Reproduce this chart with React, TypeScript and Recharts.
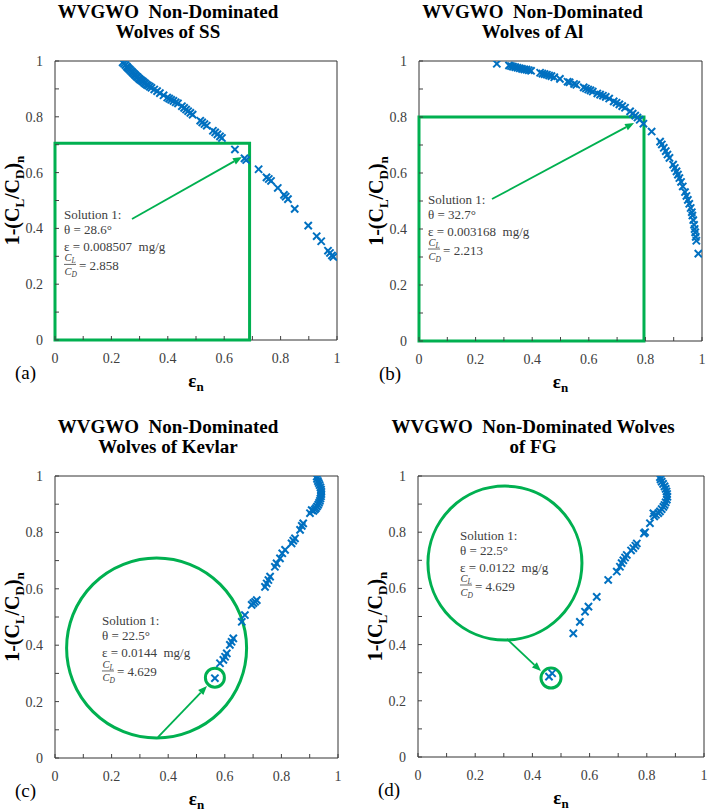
import React from 'react';
import {
  ScatterChart,
  Scatter,
  XAxis,
  YAxis,
  ReferenceArea,
  ReferenceDot,
  ReferenceLine,
} from 'recharts';

type Pt = [number, number];

// Non-dominated fronts: [normalised erosion εn, 1-(CL/CD)n]
const ssFront: Pt[] = [
  [0.240, 0.995], [0.245, 0.990], [0.250, 0.985], [0.255, 0.980], [0.258, 0.976],
  [0.262, 0.972], [0.266, 0.968], [0.270, 0.964], [0.274, 0.960], [0.278, 0.956],
  [0.282, 0.952], [0.285, 0.949], [0.289, 0.945], [0.293, 0.942], [0.297, 0.938],
  [0.300, 0.935], [0.304, 0.932], [0.308, 0.929], [0.312, 0.926], [0.316, 0.922],
  [0.320, 0.919], [0.325, 0.915], [0.330, 0.912], [0.336, 0.908], [0.342, 0.904],
  [0.352, 0.898], [0.362, 0.892], [0.372, 0.885], [0.385, 0.877], [0.398, 0.869],
  [0.405, 0.865], [0.412, 0.861], [0.420, 0.857], [0.428, 0.852], [0.436, 0.848],
  [0.450, 0.838], [0.458, 0.832], [0.465, 0.826], [0.472, 0.820], [0.480, 0.814],
  [0.488, 0.808], [0.515, 0.786], [0.522, 0.780], [0.530, 0.774], [0.538, 0.768],
  [0.560, 0.750], [0.568, 0.744], [0.576, 0.737], [0.585, 0.730], [0.592, 0.724],
  [0.638, 0.683], [0.672, 0.651], [0.678, 0.645], [0.722, 0.612], [0.750, 0.583],
  [0.758, 0.577], [0.766, 0.570], [0.790, 0.545], [0.812, 0.520], [0.818, 0.514],
  [0.826, 0.505], [0.850, 0.470], [0.898, 0.410], [0.928, 0.372], [0.944, 0.354],
  [0.968, 0.320], [0.975, 0.312], [0.982, 0.303], [0.987, 0.298],
];

const alFront: Pt[] = [
  [0.275, 0.990], [0.318, 0.984], [0.325, 0.982], [0.332, 0.980], [0.340, 0.978],
  [0.348, 0.976], [0.356, 0.974], [0.364, 0.972], [0.372, 0.970], [0.380, 0.969],
  [0.388, 0.967], [0.396, 0.965], [0.428, 0.958], [0.436, 0.955], [0.444, 0.953],
  [0.452, 0.951], [0.460, 0.948], [0.468, 0.946], [0.478, 0.942], [0.498, 0.936],
  [0.525, 0.926], [0.532, 0.924], [0.548, 0.918], [0.556, 0.915], [0.582, 0.906],
  [0.590, 0.902], [0.598, 0.898], [0.606, 0.895], [0.614, 0.891], [0.630, 0.884],
  [0.640, 0.880], [0.650, 0.876], [0.660, 0.872], [0.672, 0.866], [0.688, 0.856],
  [0.698, 0.851], [0.708, 0.845], [0.718, 0.839], [0.728, 0.833], [0.746, 0.820],
  [0.755, 0.812], [0.764, 0.805], [0.772, 0.798], [0.780, 0.790], [0.793, 0.776],
  [0.822, 0.748], [0.852, 0.712], [0.858, 0.702], [0.865, 0.690], [0.872, 0.678],
  [0.878, 0.666], [0.885, 0.654], [0.898, 0.630], [0.904, 0.618], [0.910, 0.606],
  [0.915, 0.594], [0.920, 0.582], [0.926, 0.568], [0.932, 0.552], [0.940, 0.532],
  [0.945, 0.518], [0.950, 0.504], [0.955, 0.490], [0.960, 0.475], [0.964, 0.460],
  [0.966, 0.448], [0.969, 0.432], [0.972, 0.415], [0.974, 0.400], [0.976, 0.388],
  [0.978, 0.372], [0.980, 0.358], [0.987, 0.312],
];

const kevlarFront: Pt[] = [
  [0.925, 0.998], [0.926, 0.990], [0.929, 0.982], [0.932, 0.975], [0.935, 0.968],
  [0.938, 0.960], [0.940, 0.952], [0.941, 0.944], [0.941, 0.936], [0.940, 0.928],
  [0.938, 0.920], [0.936, 0.912], [0.933, 0.905], [0.930, 0.898], [0.926, 0.892],
  [0.922, 0.886], [0.918, 0.881], [0.913, 0.876], [0.907, 0.879], [0.901, 0.868],
  [0.877, 0.832], [0.872, 0.823], [0.866, 0.809], [0.848, 0.779], [0.842, 0.771],
  [0.836, 0.761], [0.813, 0.738], [0.803, 0.726], [0.795, 0.708], [0.783, 0.690],
  [0.777, 0.678], [0.760, 0.643], [0.754, 0.631], [0.748, 0.619], [0.742, 0.607],
  [0.713, 0.560], [0.707, 0.554], [0.701, 0.549], [0.695, 0.543], [0.671, 0.507],
  [0.660, 0.483], [0.630, 0.424], [0.624, 0.412], [0.618, 0.401], [0.607, 0.371],
  [0.601, 0.359], [0.595, 0.348], [0.583, 0.336], [0.565, 0.283],
];

const fgFront: Pt[] = [
  [0.846, 0.996], [0.848, 0.988], [0.852, 0.980], [0.857, 0.972], [0.862, 0.963],
  [0.866, 0.954], [0.869, 0.945], [0.871, 0.936], [0.872, 0.926], [0.870, 0.916],
  [0.866, 0.906], [0.862, 0.897], [0.858, 0.890], [0.852, 0.882], [0.846, 0.874],
  [0.840, 0.868], [0.832, 0.862], [0.826, 0.856], [0.823, 0.867], [0.811, 0.832],
  [0.794, 0.800], [0.790, 0.796], [0.765, 0.760], [0.760, 0.752], [0.753, 0.743],
  [0.745, 0.735], [0.730, 0.719], [0.724, 0.710], [0.718, 0.700], [0.712, 0.690],
  [0.706, 0.677], [0.695, 0.660], [0.665, 0.630], [0.625, 0.570], [0.596, 0.535],
  [0.584, 0.517], [0.566, 0.481], [0.543, 0.440], [0.458, 0.286], [0.469, 0.298],
];

const AXIS_TICKS = [0, 0.1, 0.2, 0.3, 0.4, 0.5, 0.6, 0.7, 0.8, 0.9, 1];
const AXIS_TICK_TEXT = ['0', '', '0.2', '', '0.4', '', '0.6', '', '0.8', '', '1'];

const SERIF = '"Liberation Serif", "Times New Roman", serif';
const BLUE = '#0070C0';
const GREEN = '#00B050';
const INK = '#404040';

const serif = (size: number, extra: React.CSSProperties = {}): React.CSSProperties => ({
  fontFamily: SERIF,
  fontSize: size,
  ...extra,
});

const toRows = (pts: Pt[]) => pts.map(([eps, ratio]) => ({ eps, ratio }));
const tickText = (v: number) => AXIS_TICK_TEXT[Math.round(v * 10)] ?? '';

function XTick(props: any) {
  const { x, y, payload } = props;
  const label = tickText(payload?.value ?? 0);
  if (!label) return null;
  return (
    <text x={x} y={y} dy="0.71em" textAnchor="middle" fill={INK} style={serif(14)}>
      {label}
    </text>
  );
}

function YTick(props: any) {
  const { x, y, payload } = props;
  const label = tickText(payload?.value ?? 0);
  if (!label) return null;
  return (
    <text x={x} y={y} dy="0.355em" textAnchor="end" fill={INK} style={serif(14)}>
      {label}
    </text>
  );
}

function CrossMark(props: any) {
  const { cx, cy } = props;
  if (cx == null || cy == null) return null;
  const s = 3.6;
  return (
    <g stroke={BLUE} strokeWidth={2}>
      <line x1={cx - s} y1={cy - s} x2={cx + s} y2={cy + s} />
      <line x1={cx - s} y1={cy + s} x2={cx + s} y2={cy - s} />
    </g>
  );
}

function ArrowShape(props: any) {
  const { x1, y1, x2, y2 } = props;
  if ([x1, y1, x2, y2].some((v) => v == null || Number.isNaN(v))) return null;
  const a = Math.atan2(y2 - y1, x2 - x1);
  const len = 9;
  const half = 3.6;
  const bx = x2 - len * Math.cos(a);
  const by = y2 - len * Math.sin(a);
  const nx = -Math.sin(a);
  const ny = Math.cos(a);
  return (
    <g>
      <line x1={x1} y1={y1} x2={bx} y2={by} stroke={GREEN} strokeWidth={1.8} />
      <polygon
        points={`${x2},${y2} ${bx + nx * half},${by + ny * half} ${bx - nx * half},${by - ny * half}`}
        fill={GREEN}
      />
    </g>
  );
}

type NoteText = { theta: string; eps: string; ratio: string };

const makeNote = (n: NoteText) => (p: any) => {
  const { cx, cy } = p;
  if (cx == null || cy == null) return null;
  return (
    <g fill={INK}>
      <text x={cx} y={cy} style={serif(13)}>Solution 1:</text>
      <text x={cx} y={cy + 15} style={serif(13)}>{`θ = ${n.theta}°`}</text>
      <text x={cx} y={cy + 32} style={serif(13, { whiteSpace: 'pre' })}>{`ε = ${n.eps}  mg/g`}</text>
      <text x={cx + 0.5} y={cy + 42.5} style={serif(10.5, { fontStyle: 'italic' })}>
        C<tspan dy={2} style={{ fontSize: 7.5 }}>L</tspan>
      </text>
      <line x1={cx} y1={cy + 45.5} x2={cx + 12} y2={cy + 45.5} stroke={INK} strokeWidth={0.8} />
      <text x={cx + 0.5} y={cy + 56} style={serif(10.5, { fontStyle: 'italic' })}>
        C<tspan dy={2} style={{ fontSize: 7.5 }}>D</tspan>
      </text>
      <text x={cx + 15} y={cy + 51} style={serif(13)}>{`= ${n.ratio}`}</text>
    </g>
  );
};

const YTitle = (p: any) => {
  const vb = p.viewBox || {};
  const cx = vb.x + vb.width - 43;
  const cy = vb.y + vb.height / 2;
  return (
    <text
      x={0}
      y={7}
      transform={`translate(${cx},${cy}) rotate(-90)`}
      textAnchor="middle"
      fill="#000"
      style={serif(20, { fontWeight: 'bold' })}
    >
      1-(C<tspan dy={5} style={{ fontSize: 13 }}>L</tspan>
      <tspan dy={-5}>/C</tspan>
      <tspan dy={5} style={{ fontSize: 13 }}>D</tspan>
      <tspan dy={-5}>)</tspan>
      <tspan dy={5} style={{ fontSize: 13 }}>n</tspan>
    </text>
  );
};

const makeXTitle = (letter: string) => (p: any) => {
  const vb = p.viewBox || {};
  const cx = vb.x + vb.width / 2;
  return (
    <g>
      <text x={cx} y={vb.y + 47} textAnchor="middle" fill="#000" style={serif(19, { fontWeight: 'bold' })}>
        ε<tspan dy={4} style={{ fontSize: 13 }}>n</tspan>
      </text>
      <text x={vb.x - 40} y={vb.y + 39} fill="#000" style={serif(19)}>{`(${letter})`}</text>
    </g>
  );
};

type PanelCfg = {
  left: number;
  top: number;
  width: number;
  height: number;
  margin: { top: number; right: number; bottom: number; left: number };
  letter: string;
  rows: { eps: number; ratio: number }[];
};

function renderPanel(cfg: PanelCfg, extras: React.ReactNode[]) {
  return (
    <div style={{ position: 'absolute', left: cfg.left, top: cfg.top }}>
      <ScatterChart width={cfg.width} height={cfg.height} margin={cfg.margin}>
        <XAxis
          type="number"
          dataKey="eps"
          domain={[0, 1]}
          ticks={AXIS_TICKS}
          interval={0}
          allowDataOverflow
          axisLine={false}
          tickSize={-4}
          tickMargin={17}
          height={30}
          tickLine={{ stroke: INK }}
          tick={XTick}
          label={makeXTitle(cfg.letter)}
        />
        <YAxis
          type="number"
          dataKey="ratio"
          domain={[0, 1]}
          ticks={AXIS_TICKS}
          interval={0}
          allowDataOverflow
          axisLine={false}
          tickSize={-4}
          tickMargin={16}
          width={40}
          tickLine={{ stroke: INK }}
          tick={YTick}
          label={YTitle}
        />
        <ReferenceArea
          x1={0}
          x2={1}
          y1={0}
          y2={1}
          fill="none"
          fillOpacity={0}
          stroke="#333"
          strokeWidth={1}
          ifOverflow="visible"
        />
        {extras}
        <Scatter data={cfg.rows} shape={CrossMark} isAnimationActive={false} />
      </ScatterChart>
    </div>
  );
}

const titleStyle = (left: number, top: number, width: number): React.CSSProperties => ({
  position: 'absolute',
  left,
  top,
  width,
  textAlign: 'center',
  fontFamily: SERIF,
  fontWeight: 'bold',
  fontSize: 19,
  lineHeight: '20px',
  color: '#000',
  whiteSpace: 'pre',
});

export default function App() {
  const panelA = renderPanel(
    {
      left: 0, top: 0, width: 354, height: 400,
      margin: { top: 61, right: 17, bottom: 30, left: 15 },
      letter: 'a', rows: toRows(ssFront),
    },
    [
      <ReferenceArea key="box" x1={0} x2={0.69} y1={0} y2={0.705} fill="none" fillOpacity={0}
        stroke={GREEN} strokeWidth={3} ifOverflow="visible" />,
      <ReferenceLine key="arrow" segment={[{ x: 0.273, y: 0.434 }, { x: 0.663, y: 0.656 }]}
        shape={ArrowShape} ifOverflow="visible" />,
      <ReferenceDot key="note" x={0.032} y={0.434} r={1} ifOverflow="visible"
        shape={makeNote({ theta: '28.6', eps: '0.008507', ratio: '2.858' })} />,
    ],
  );

  const panelB = renderPanel(
    {
      left: 354, top: 0, width: 354, height: 400,
      margin: { top: 61, right: 6, bottom: 29, left: 25 },
      letter: 'b', rows: toRows(alFront),
    },
    [
      <ReferenceArea key="box" x1={0} x2={0.795} y1={0} y2={0.8} fill="none" fillOpacity={0}
        stroke={GREEN} strokeWidth={3} ifOverflow="visible" />,
      <ReferenceLine key="arrow" segment={[{ x: 0.258, y: 0.507 }, { x: 0.76, y: 0.779 }]}
        shape={ArrowShape} ifOverflow="visible" />,
      <ReferenceDot key="note" x={0.032} y={0.491} r={1} ifOverflow="visible"
        shape={makeNote({ theta: '32.7', eps: '0.003168', ratio: '2.213' })} />,
    ],
  );

  const panelC = renderPanel(
    {
      left: 0, top: 400, width: 354, height: 412,
      margin: { top: 76, right: 16, bottom: 24, left: 15 },
      letter: 'c', rows: toRows(kevlarFront),
    },
    [
      <ReferenceDot key="ring" x={0.359} y={0.39} r={90} fill="none" fillOpacity={0}
        stroke={GREEN} strokeWidth={3} ifOverflow="visible" />,
      <ReferenceDot key="pick" x={0.565} y={0.285} r={9.5} fill="none" fillOpacity={0}
        stroke={GREEN} strokeWidth={3} ifOverflow="visible" />,
      <ReferenceLine key="arrow" segment={[{ x: 0.364, y: 0.074 }, { x: 0.537, y: 0.255 }]}
        shape={ArrowShape} ifOverflow="visible" />,
      <ReferenceDot key="note" x={0.166} y={0.47} r={1} ifOverflow="visible"
        shape={makeNote({ theta: '22.5', eps: '0.0144', ratio: '4.629' })} />,
    ],
  );

  const panelD = renderPanel(
    {
      left: 354, top: 400, width: 354, height: 412,
      margin: { top: 76, right: 4, bottom: 25, left: 24 },
      letter: 'd', rows: toRows(fgFront),
    },
    [
      <ReferenceDot key="ring" x={0.304} y={0.69} r={77} fill="none" fillOpacity={0}
        stroke={GREEN} strokeWidth={3} ifOverflow="visible" />,
      <ReferenceDot key="pick" x={0.465} y={0.281} r={10} fill="none" fillOpacity={0}
        stroke={GREEN} strokeWidth={3} ifOverflow="visible" />,
      <ReferenceLine key="arrow" segment={[{ x: 0.311, y: 0.42 }, { x: 0.43, y: 0.306 }]}
        shape={ArrowShape} ifOverflow="visible" />,
      <ReferenceDot key="note" x={0.147} y={0.774} r={1} ifOverflow="visible"
        shape={makeNote({ theta: '22.5', eps: '0.0122', ratio: '4.629' })} />,
    ],
  );

  return (
    <div style={{ position: 'absolute', left: 0, top: 0, width: 708, height: 812, background: '#fff' }}>
      {panelA}
      {panelB}
      {panelC}
      {panelD}
      <div style={titleStyle(0, 2, 336)}>{'WVGWO  Non-Dominated\nWolves of SS'}</div>
      <div style={titleStyle(357, 2, 351)}>{'WVGWO  Non-Dominated\nWolves of Al'}</div>
      <div style={titleStyle(0, 417, 336)}>{'WVGWO  Non-Dominated\nWolves of Kevlar'}</div>
      <div style={titleStyle(357, 417, 352)}>{'WVGWO  Non-Dominated Wolves\nof FG'}</div>
    </div>
  );
}
